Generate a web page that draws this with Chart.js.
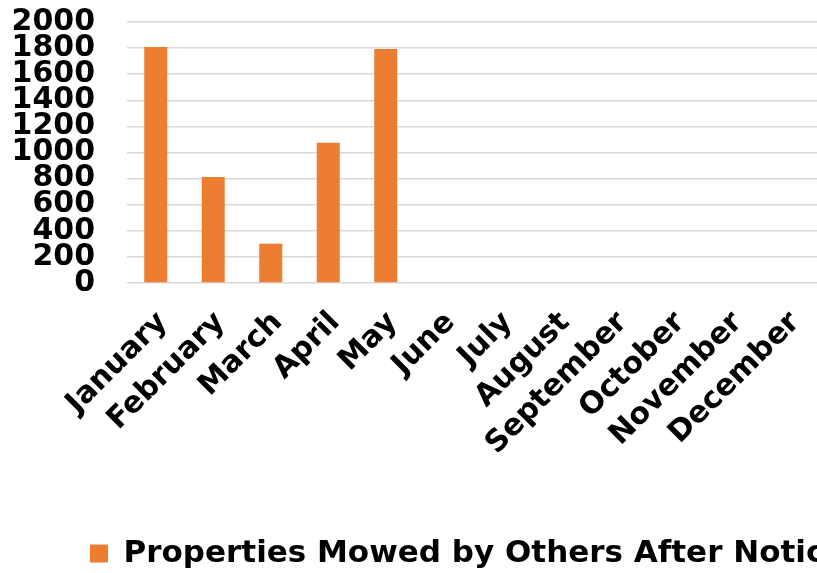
<!DOCTYPE html>
<html>
<head>
<meta charset="utf-8">
<script src="https://cdn.jsdelivr.net/npm/chart.js@4.4.1/dist/chart.umd.min.js"></script>
<style>
  html, body { margin: 0; padding: 0; background: #ffffff; }
  #wrap { width: 817px; height: 573px; }
</style>
</head>
<body>
<div id="wrap"><canvas id="c" width="817" height="573"></canvas></div>
<script>
const categories = ["January", "February", "March", "April", "May", "June", "July", "August", "September", "October", "November", "December"];
const seriesName = "Properties Mowed by Others After Notice";
const seriesValues = [1808, 813, 301, 1075, 1793, null, null, null, null, null, null, null];
const yTicksMin = 0;
const yTicksMax = 2000;
const yTickStep = 200;

const FONT = "'DejaVu Sans', Verdana, sans-serif";

new Chart(document.getElementById('c'), {
  type: 'bar',
  data: {
    labels: categories,
    datasets: [{
      label: seriesName,
      data: seriesValues,
      backgroundColor: '#ED7D31',
      borderWidth: 0,
      categoryPercentage: 1.0,
      barPercentage: 0.4
    }]
  },
  options: {
    responsive: false,
    animation: false,
    devicePixelRatio: 1,
    layout: { padding: { left: 10, top: 4, right: 0, bottom: -6 } },
    plugins: {
      tooltip: { enabled: false },
      title: { display: false },
      legend: {
        display: true,
        position: 'bottom',
        align: 'start',
        labels: {
          boxWidth: 18,
          boxHeight: 18,
          padding: 80,
          color: '#000000',
          font: { family: FONT, size: 31, weight: 'bold' }
        }
      }
    },
    scales: {
      x: {
        grid: { display: false, drawTicks: false },
        border: { display: false },
        ticks: {
          autoSkip: false,
          minRotation: 45,
          maxRotation: 45,
          padding: 22,
          labelOffset: 7,
          color: '#000000',
          font: { family: FONT, size: 30, weight: 'bold' }
        },
        afterFit: (scale) => { scale.height = 175; scale.paddingLeft = 0; scale.paddingRight = 0; }
      },
      y: {
        min: yTicksMin,
        max: yTicksMax,
        grid: { color: '#d9d9d9', lineWidth: 1.5, drawTicks: false },
        border: { display: false },
        ticks: {
          stepSize: yTickStep,
          autoSkip: false,
          padding: 32,
          color: '#000000',
          font: { family: FONT, size: 30, weight: 'bold', lineHeight: 1.2 },
          callback: (v) => String(v)
        },
        afterFit: (scale) => { scale.width = 117; scale.paddingTop = 22; scale.paddingBottom = 0; }
      }
    }
  }
});
</script>
</body>
</html>
